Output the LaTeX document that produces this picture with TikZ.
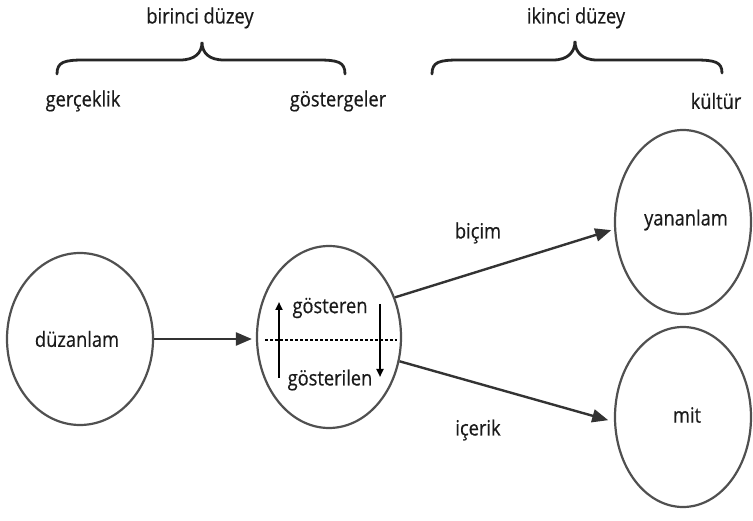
\documentclass[tikz,border=0pt]{standalone}
\usepackage{fontspec}
\setmainfont{Open Sans}[FakeStretch=0.87,FakeBold=0.5]
\usetikzlibrary{shapes.geometric,arrows.meta}
\definecolor{ink}{HTML}{1A1A1A}
\definecolor{ringc}{HTML}{505050}
\definecolor{arrc}{HTML}{333333}
\tikzset{
  ring/.style={ellipse, draw=ringc, line width=2.2pt, inner sep=0pt},
  lbl/.style={text=ink, font=\fontsize{21}{23}\selectfont, inner sep=0pt},
  conn/.style={draw=arrc, line width=2.4pt, -{Triangle[length=16pt,width=13pt]}},
  smallarr/.style={draw=black, line width=2pt, -{Triangle[length=8pt,width=7pt]}},
  bracec/.style={draw=black!85, line width=2.8pt, line cap=round}
}
\begin{document}
\begin{tikzpicture}[x=1pt,y=-1pt]
\useasboundingbox (0,0) rectangle (753,521);
% ellipses
\node[ring, minimum width=146pt, minimum height=172pt] (L) at (80,339) {};
\node[ring, minimum width=144pt, minimum height=182pt] (M) at (329,337) {};
\node[ring, minimum width=136pt, minimum height=184pt] (Y) at (683,222) {};
\node[ring, minimum width=136pt, minimum height=180pt] (B) at (683,417) {};
% labels in ellipses
\node[lbl] (tL) at (77,339) {düzanlam};
\node[lbl] (tY) at (686,220) {yananlam};
\node[lbl] (tB) at (687,415) {mit};
\node[lbl] (tg1) at (330,308) {gösteren};
\node[lbl] (tg2) at (330,380) {gösterilen};
% inside middle
\coordinate (dl) at (265,340);
\coordinate (dr) at (397,340);
\draw[black, line width=1.2pt, dash pattern=on 3pt off 2pt] (dl) -- (dr);
\coordinate (ua) at (279,378);
\coordinate (ub) at (279,302);
\coordinate (da) at (380,304);
\coordinate (db) at (380,377);
\draw[smallarr] (ua) -- (ub);
\draw[smallarr] (da) -- (db);
% connectors
\draw[conn, shorten >=4pt] (L.east) -- (M.west |- L.east);
\draw[conn, shorten >=3pt] (M.31) -- (Y.186);
\draw[conn, shorten >=6pt] (M.-19) -- (B.184);
\node[lbl] (bic) at (478,233) {biçim};
\node[lbl] (ice) at (478,430) {içerik};
% braces
\coordinate (b1l) at (57,74);
\coordinate (b1c) at (202,42);
\coordinate (b1r) at (345,74);
\draw[bracec] (b1l) .. controls (57,62) and (64,60) .. (84,60) -- (180,60)
  .. controls (195,60) and (202,53) .. (b1c)
  .. controls (202,53) and (209,60) .. (224,60) -- (318,60)
  .. controls (338,60) and (345,62) .. (b1r);
\coordinate (b2l) at (432,74);
\coordinate (b2c) at (575,41);
\coordinate (b2r) at (722,73);
\draw[bracec] (b2l) .. controls (432,62) and (439,60) .. (459,60) -- (553,60)
  .. controls (568,60) and (575,52) .. (b2c)
  .. controls (575,52) and (582,60) .. (597,60) -- (695,60)
  .. controls (715,60) and (722,62) .. (b2r);
% top labels
\node[lbl] (t1) at (200,18) {birinci düzey};
\node[lbl] (t2) at (576,18) {ikinci düzey};
\node[lbl] (g1) at (83,101) {gerçeklik};
\node[lbl] (g2) at (338,101) {göstergeler};
\node[lbl] (g3) at (716,101) {kültür};
\end{tikzpicture}
\end{document}
